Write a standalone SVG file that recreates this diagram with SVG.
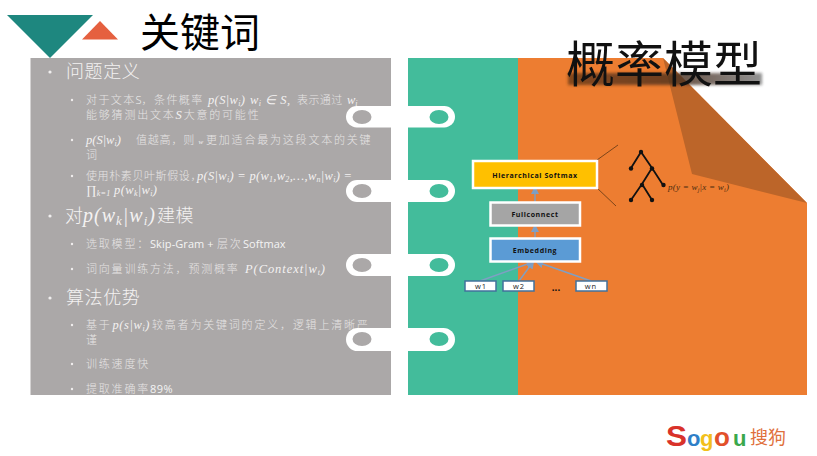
<svg xmlns="http://www.w3.org/2000/svg" width="817" height="456" viewBox="0 0 817 456">
<style>
.cjk{font-family:"Noto Sans CJK SC","Noto Sans",sans-serif}
.l1{font-family:"Noto Sans CJK SC",sans-serif;font-size:18px;fill:#f4f2f2;font-weight:300;letter-spacing:.6px}
.l2{font-family:"Noto Sans CJK SC",sans-serif;font-size:11px;fill:#e6e4e4;font-weight:300;letter-spacing:1.8px}
.m{font-family:"Liberation Serif",serif;font-style:italic;font-size:12.500px;fill:#f4f2f2}
.s{font-size:8px}
.lat{font-family:"Open Sans","Noto Sans",sans-serif;font-size:11px;fill:#f4f4f4;letter-spacing:.4px}
.bul{fill:#f0eeee}
.pill{fill:#fff}
.box{stroke:#fff;stroke-width:2.500}
.lab{font-family:"Open Sans","Liberation Sans",sans-serif;font-size:7px;font-weight:700;fill:#111;text-anchor:middle;letter-spacing:.6px}
.wb{fill:#fff;stroke:#41719c;stroke-width:1.500}
.wl{font-family:"Open Sans","Liberation Sans",sans-serif;font-size:7.500px;fill:#222;text-anchor:middle;letter-spacing:1px}
.cn{fill:none;stroke:#7f9fc4;stroke-width:1.400}
.tr{fill:none;stroke:#111;stroke-width:1.800}
.lg{font-family:"Liberation Sans",sans-serif;font-weight:700}
</style>
<defs>
<marker id="a" viewBox="0 0 8 8" refX="6" refY="4" markerWidth="6" markerHeight="6" orient="auto-start-reverse"><path d="M0 0L8 4L0 8Z" fill="#7f9fc4"/></marker>
<filter id="b" x="-10%" y="-40%" width="120%" height="180%"><feGaussianBlur stdDeviation="1.600"/></filter>
<linearGradient id="g"><stop offset="0" stop-color="#6a3a18"/><stop offset=".6" stop-color="#4a3020"/><stop offset="1" stop-color="#777"/></linearGradient>
</defs>
<rect width="817" height="456" fill="#fff"/>

<g id="header">
<polygon points="7,15 93,15 50,58" fill="#1e877f"/>
<polygon points="82,39.500 118,39.500 100,21" fill="#e5603f"/>
<text x="140" y="47" class="cjk" font-size="40" fill="#000">关键词</text>
</g>

<g id="left-panel">
<rect x="30.500" y="58" width="360.500" height="337" fill="#aba8a8"/>
<circle class="bul" cx="50" cy="72" r="1.600"/>
<text class="l1" x="66" y="78">问题定义</text>

<circle class="bul" cx="72" cy="100" r="1.200"/>
<text class="l2" x="86" y="104" textLength="118" lengthAdjust="spacing">对于文本<tspan class="lat">S</tspan>，条件概率</text>
<text class="m" x="208" y="104" textLength="37" lengthAdjust="spacing">p(S|w<tspan class="s" dy="2">i</tspan><tspan dy="-2">)</tspan></text>
<text class="m" x="250" y="104" textLength="40" lengthAdjust="spacing">w<tspan class="s" dy="2">i</tspan><tspan dy="-2"> ∈ S,</tspan></text>
<text class="l2" x="297" y="104" textLength="47" lengthAdjust="spacing">表示通过</text>
<text class="m" x="347" y="104">w<tspan class="s" dy="2">i</tspan></text>
<text class="l2" x="86" y="119">能够猜测出文本<tspan class="m">S</tspan>大意的可能性</text>

<circle class="bul" cx="72" cy="140" r="1.200"/>
<text class="m" x="86" y="144">p(S|w<tspan class="s" dy="2">i</tspan><tspan dy="-2">)</tspan></text>
<text class="l2" x="136" y="144" textLength="60" lengthAdjust="spacing">值越高，则</text>
<text class="m" x="198.500" y="144" style="font-size:7px">w</text>
<text class="l2" x="206" y="144">更加适合最为这段文本的关键</text>
<text class="l2" x="86" y="159">词</text>

<circle class="bul" cx="72" cy="176" r="1.200"/>
<text class="l2" x="86" y="180" style="letter-spacing:.6px">使用朴素贝叶斯假设，</text>
<text class="m" x="197" y="180" textLength="155" lengthAdjust="spacing">p(S|w<tspan class="s" dy="2">i</tspan><tspan dy="-2">) = p(w</tspan><tspan class="s" dy="2">1</tspan><tspan dy="-2">,w</tspan><tspan class="s" dy="2">2</tspan><tspan dy="-2">,…,w</tspan><tspan class="s" dy="2">n</tspan><tspan dy="-2">|w</tspan><tspan class="s" dy="2">i</tspan><tspan dy="-2">) =</tspan></text>
<text class="m" x="86" y="194" textLength="71" lengthAdjust="spacing">∏<tspan class="s" dy="2">k=1</tspan><tspan dy="-2"> p(w</tspan><tspan class="s" dy="2">k</tspan><tspan dy="-2">|w</tspan><tspan class="s" dy="2">i</tspan><tspan dy="-2">)</tspan></text>

<circle class="bul" cx="50" cy="216" r="1.600"/>
<text class="l1" x="65" y="222">对</text>
<text class="m" x="83" y="222" style="font-size:20px" textLength="72" lengthAdjust="spacing">p(w<tspan style="font-size:13px" dy="3">k</tspan><tspan dy="-3">|w</tspan><tspan style="font-size:13px" dy="3">i</tspan><tspan dy="-3">)</tspan></text>
<text class="l1" x="157" y="222">建模</text>

<circle class="bul" cx="72" cy="244" r="1.200"/>
<text class="l2" x="86" y="248">选取模型：</text>
<text class="lat" x="150" y="248" textLength="64" lengthAdjust="spacing">Skip-Gram +</text>
<text class="l2" x="217" y="248">层次</text>
<text class="lat" x="243" y="248" textLength="43" lengthAdjust="spacing">Softmax</text>

<circle class="bul" cx="72" cy="269" r="1.200"/>
<text class="l2" x="86" y="273">词向量训练方法，预测概率</text>
<text class="m" x="245" y="273" textLength="80" lengthAdjust="spacing">P(Context|w<tspan class="s" dy="2">t</tspan><tspan dy="-2">)</tspan></text>

<circle class="bul" cx="50" cy="298" r="1.600"/>
<text class="l1" x="66" y="304">算法优势</text>

<circle class="bul" cx="72" cy="325" r="1.200"/>
<text class="l2" x="86" y="329">基于</text>
<text class="m" x="112.500" y="329" textLength="37" lengthAdjust="spacing">p(s|w<tspan class="s" dy="2">i</tspan><tspan dy="-2">)</tspan></text>
<text class="l2" x="152" y="329">较高者为关键词的定义，逻辑上清晰严</text>
<text class="l2" x="86" y="344">谨</text>
<circle class="bul" cx="72" cy="364" r="1.200"/>
<text class="l2" x="86" y="368">训练速度快</text>
<circle class="bul" cx="72" cy="389" r="1.200"/>
<text class="l2" x="86" y="393">提取准确率</text>
<text class="lat" x="150" y="393">89%</text>
</g>

<g id="right-panel">
<rect x="408" y="58" width="110.500" height="337" fill="#43bc9b"/>
<polygon points="518,58 663,58 807,203 807,395 518,395" fill="#ed7d31"/>
<polygon points="663,58 807,203 692,174" fill="#bc6529"/>
</g>

<g id="rings">
<rect class="pill" x="346" y="106" width="109" height="21.500" rx="10.700"/>
<rect class="pill" x="346" y="180" width="109" height="22" rx="11"/>
<rect class="pill" x="346" y="254" width="109" height="22" rx="11"/>
<rect class="pill" x="346" y="328" width="109" height="23" rx="11.500"/>
<g fill="#aba8a8"><ellipse cx="362" cy="117" rx="9.500" ry="7"/><ellipse cx="362" cy="191" rx="9.500" ry="7"/><ellipse cx="362" cy="265" rx="9.500" ry="7"/><ellipse cx="362" cy="339" rx="9.500" ry="7"/></g>
<g fill="#43bc9b"><ellipse cx="439" cy="117" rx="9.500" ry="7"/><ellipse cx="439" cy="191" rx="9.500" ry="7"/><ellipse cx="439" cy="265" rx="9.500" ry="7"/><ellipse cx="439" cy="339" rx="9.500" ry="7"/></g>
</g>

<g id="connectors">
<path class="cn" d="M535 202V188" marker-end="url(#a)"/>
<path class="cn" d="M535 238V226" marker-end="url(#a)"/>
<path class="cn" d="M480 281L533 262" marker-end="url(#a)"/>
<path class="cn" d="M519 281L533 262" marker-end="url(#a)"/>
<path class="cn" d="M591 281L537 262" marker-end="url(#a)"/>
<path fill="none" stroke="#4a2c10" stroke-width=".7" d="M597 160L618 145M597 188L616 206"/>
</g>

<g id="n-hs"><rect class="box" x="473" y="161" width="124" height="27" fill="#ffc000"/><text class="lab" x="535" y="177.500">Hierarchical Softmax</text></g>
<g id="n-fc"><rect class="box" x="490.500" y="202.500" width="89.500" height="23" fill="#a5a5a5"/><text class="lab" x="535" y="216.500">Fullconnect</text></g>
<g id="n-em"><rect class="box" x="490.500" y="238.500" width="89.500" height="23" fill="#5b9bd5"/><text class="lab" x="535" y="252.500">Embedding</text></g>
<g id="n-w1"><rect class="wb" x="465" y="281" width="31" height="10"/><text class="wl" x="481" y="289">w1</text></g>
<g id="n-w2"><rect class="wb" x="503" y="281" width="31" height="10"/><text class="wl" x="519" y="289">w2</text></g>
<g id="n-dots"><text x="556" y="291" font-family="Liberation Sans,sans-serif" font-size="10" font-weight="700" fill="#111" text-anchor="middle">...</text></g>
<g id="n-wn"><rect class="wb" x="576" y="281" width="31" height="10"/><text class="wl" x="591" y="289">wn</text></g>

<g id="tree">
<path class="tr" d="M631 168L641 152L652 168L663 185M652 168L642 184L631 200M642 184L652 200"/>
<g fill="#111"><circle cx="641" cy="152" r="2.200"/><circle cx="631" cy="168.500" r="2.200"/><circle cx="652" cy="168.500" r="2.200"/><circle cx="663.500" cy="185" r="2.200"/><circle cx="642" cy="185" r="2.200"/><circle cx="631" cy="200" r="2.200"/><circle cx="652" cy="200" r="2.200"/></g>
<text x="668" y="190" font-family="Liberation Serif,serif" font-style="italic" font-size="9" fill="#4a2c10" textLength="61" lengthAdjust="spacing">p(y = w<tspan font-size="6" dy="1.500">j</tspan><tspan dy="-1.500">|x = w</tspan><tspan font-size="6" dy="1.500">i</tspan><tspan dy="-1.500">)</tspan></text>
</g>

<g id="title-model">
<rect x="568" y="73" width="194" height="12" fill="url(#g)" filter="url(#b)" opacity=".8"/>
<text x="566" y="82" class="cjk" font-size="49" font-weight="400" fill="#111">概率模型</text>
</g>

<g id="logo">
<text class="lg" x="666" y="446" font-size="29" fill="#d9322a" textLength="21" lengthAdjust="spacingAndGlyphs">S</text>
<text class="lg" x="687" y="446" font-size="22" fill="#2f7fc8">o</text>
<text class="lg" x="700" y="446" font-size="22" fill="#f2c01c">g</text>
<text class="lg" x="714" y="446" font-size="26" fill="#e2502a">o</text>
<text class="lg" x="733" y="446" font-size="22" fill="#3aa84c">u</text>
<text x="750" y="444" class="cjk" font-size="18" font-weight="400" fill="#e0703c">搜狗</text>
</g>
</svg>
